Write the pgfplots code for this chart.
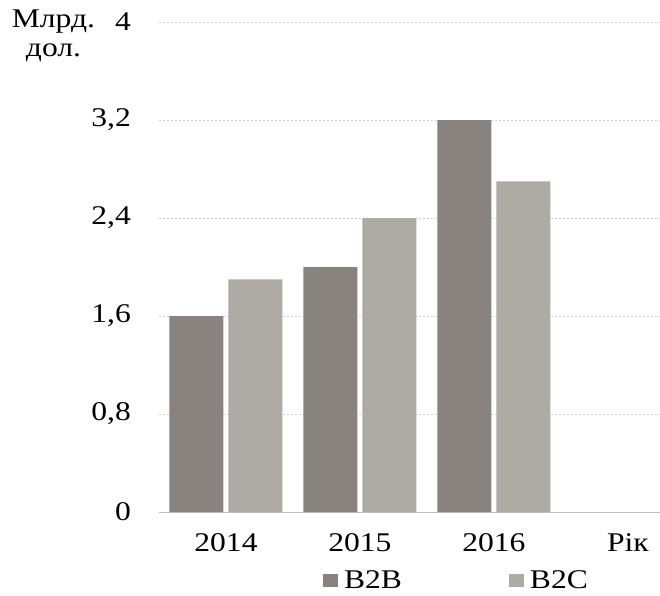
\documentclass[border=0pt]{standalone}
\usepackage{fontspec}
\setmainfont{Liberation Serif}[FakeStretch=1.17]
\usepackage{pgfplots}
\pgfplotsset{compat=1.18}
\definecolor{cBB}{HTML}{88837E}
\definecolor{cBC}{HTML}{AEAAA4}
\definecolor{cGrid}{HTML}{D5CFC5}
\definecolor{cAxis}{HTML}{BFBFBF}
\newcommand\chartfont{\fontsize{27}{29}\selectfont}
\begin{document}
\begin{tikzpicture}
\path[use as bounding box] (-159pt,-83pt) rectangle (501pt,512pt);
\begin{axis}[
  scale only axis,
  width=501pt, height=490pt,
  xmin=-0.5, xmax=3.24,
  ymin=0, ymax=4,
  ybar=5pt, bar width=54pt,
  xtick={0,1,2,3},
  xticklabels={2014,2015,2016,Рік},
  ytick={0,0.8,1.6,2.4,3.2,4},
  yticklabels={0,{0,8},{1,6},{2,4},{3,2},4},
  major tick length=0pt,
  axis x line*=bottom,
  axis y line*=left,
  x axis line style={draw=cAxis, line width=0.8pt, -},
  y axis line style={draw=none},
  ymajorgrids,
  major grid style={draw=cGrid, line width=0.8pt, dash pattern=on 2pt off 2pt},
  tick label style={font=\chartfont},
  yticklabel style={inner sep=0pt, xshift=-28pt},
  xticklabel style={inner sep=0pt, text height=18pt, text depth=0pt, yshift=-21pt, anchor=north},
  legend style={draw=none, fill=none, font=\chartfont, legend columns=2,
    at={(axis description cs:0.327,-0.1398)}, anchor=west, inner sep=0pt,
    nodes={inner xsep=0pt, inner ysep=0pt},
    /tikz/every even column/.append style={column sep=107pt}},
  legend image code/.code={\path[#1, draw=none] (0pt,-6.5pt) rectangle (15pt,6.5pt); \path (21pt,0pt);},
]
\addplot[fill=cBB, draw=none] coordinates {(0,1.6) (1,2.0) (2,3.2)};
\addplot[fill=cBC, draw=none] coordinates {(0,1.9) (1,2.4) (2,2.7)};
\legend{B2B,B2C}
\end{axis}
\node[align=center, font=\chartfont, inner sep=0pt] at (-105.5pt,476pt) {Млрд.\\дол.};
\end{tikzpicture}
\end{document}
